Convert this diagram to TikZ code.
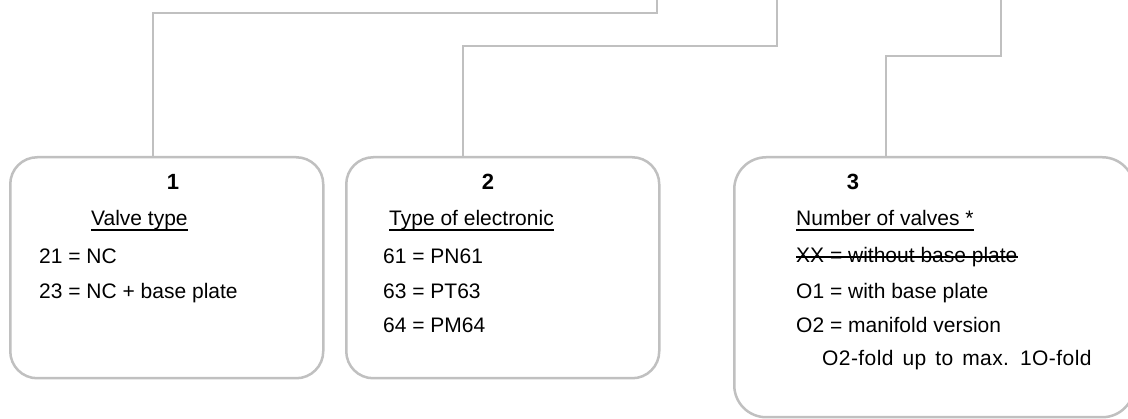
\documentclass[tikz,border=0pt]{standalone}
\usepackage{fontspec}
\setmainfont{Liberation Sans}
\usetikzlibrary{calc}
\definecolor{edge}{HTML}{C0C0C0}
\begin{document}
\begin{tikzpicture}[x=1pt,y=-1pt,
  boxst/.style={draw=edge, line width=2.5pt, fill=white, inner sep=0pt, anchor=north west},
  wire/.style={draw=edge, line width=1.5pt},
  txt/.style={anchor=base west, inner sep=0pt, font=\fontsize{21}{25}\selectfont},
  num/.style={anchor=base, inner sep=0pt, font=\fontsize{22}{26}\selectfont\bfseries},
  ul/.style={line width=1.4pt, black}]
\useasboundingbox (0,0) rectangle (1128,419);
\begin{scope}
\clip (0,0) rectangle (1128,419);
% boxes
\node[boxst, rounded corners=27pt, minimum width=313pt, minimum height=221pt] (b1) at (9,156) {};
\node[boxst, rounded corners=27pt, minimum width=313pt, minimum height=221pt] (b2) at (345,156) {};
\node[boxst, rounded corners=32pt, minimum width=400pt, minimum height=260pt] (b3) at (733,156) {};
% connectors
\coordinate (k1) at (153,13);  \coordinate (t1) at (657,-3);
\coordinate (k2) at (463,46);  \coordinate (t2) at (777,-3);
\coordinate (k3) at (886,56);  \coordinate (t3) at (1001,-3);
\draw[wire] (k1 |- b1.north) -- (k1) -| (t1);
\draw[wire] (k2 |- b2.north) -- (k2) -| (t2);
\draw[wire] (k3 |- b3.north) -- (k3) -| (t3);
\end{scope}
% box 1
\node[num] (n1) at (173,190) {1};
\node[txt] (h1) at (91,226) {Valve type};
\node[txt] (a1) at (39,264) {21 = NC};
\node[txt] (a2) at (39,299) {23 = NC + base plate};
% box 2
\node[num] (n2) at (488,190) {2};
\node[txt] (h2) at (389,226) {Type of electronic};
\node[txt] (c1) at (383,264) {61 = PN61};
\node[txt] (c2) at (383,299) {63 = PT63};
\node[txt] (c3) at (383,333) {64 = PM64};
% box 3
\node[num] (n3) at (853,190) {3};
\node[txt] (h3) at (796,226) {Number of valves *};
\node[txt] (d1) at (796,263) {XX = without base plate};
\node[txt] (d2) at (796,299) {O1 = with base plate};
\node[txt] (d3) at (796,333) {O2 = manifold version};
\node[txt] (d4) at (822,366) {\addfontfeature{LetterSpace=2}\spaceskip=9pt O2-fold up to max. 1O-fold};
% underlines and strike
\foreach \h in {h1,h2,h3}
  \draw[ul] ($(\h.base west)+(0,4)$) -- ($(\h.base east)+(0,4)$);
\draw[ul] ($(d1.base west)+(0,-6)$) -- ($(d1.base east)+(0,-6)$);
\end{tikzpicture}
\end{document}
